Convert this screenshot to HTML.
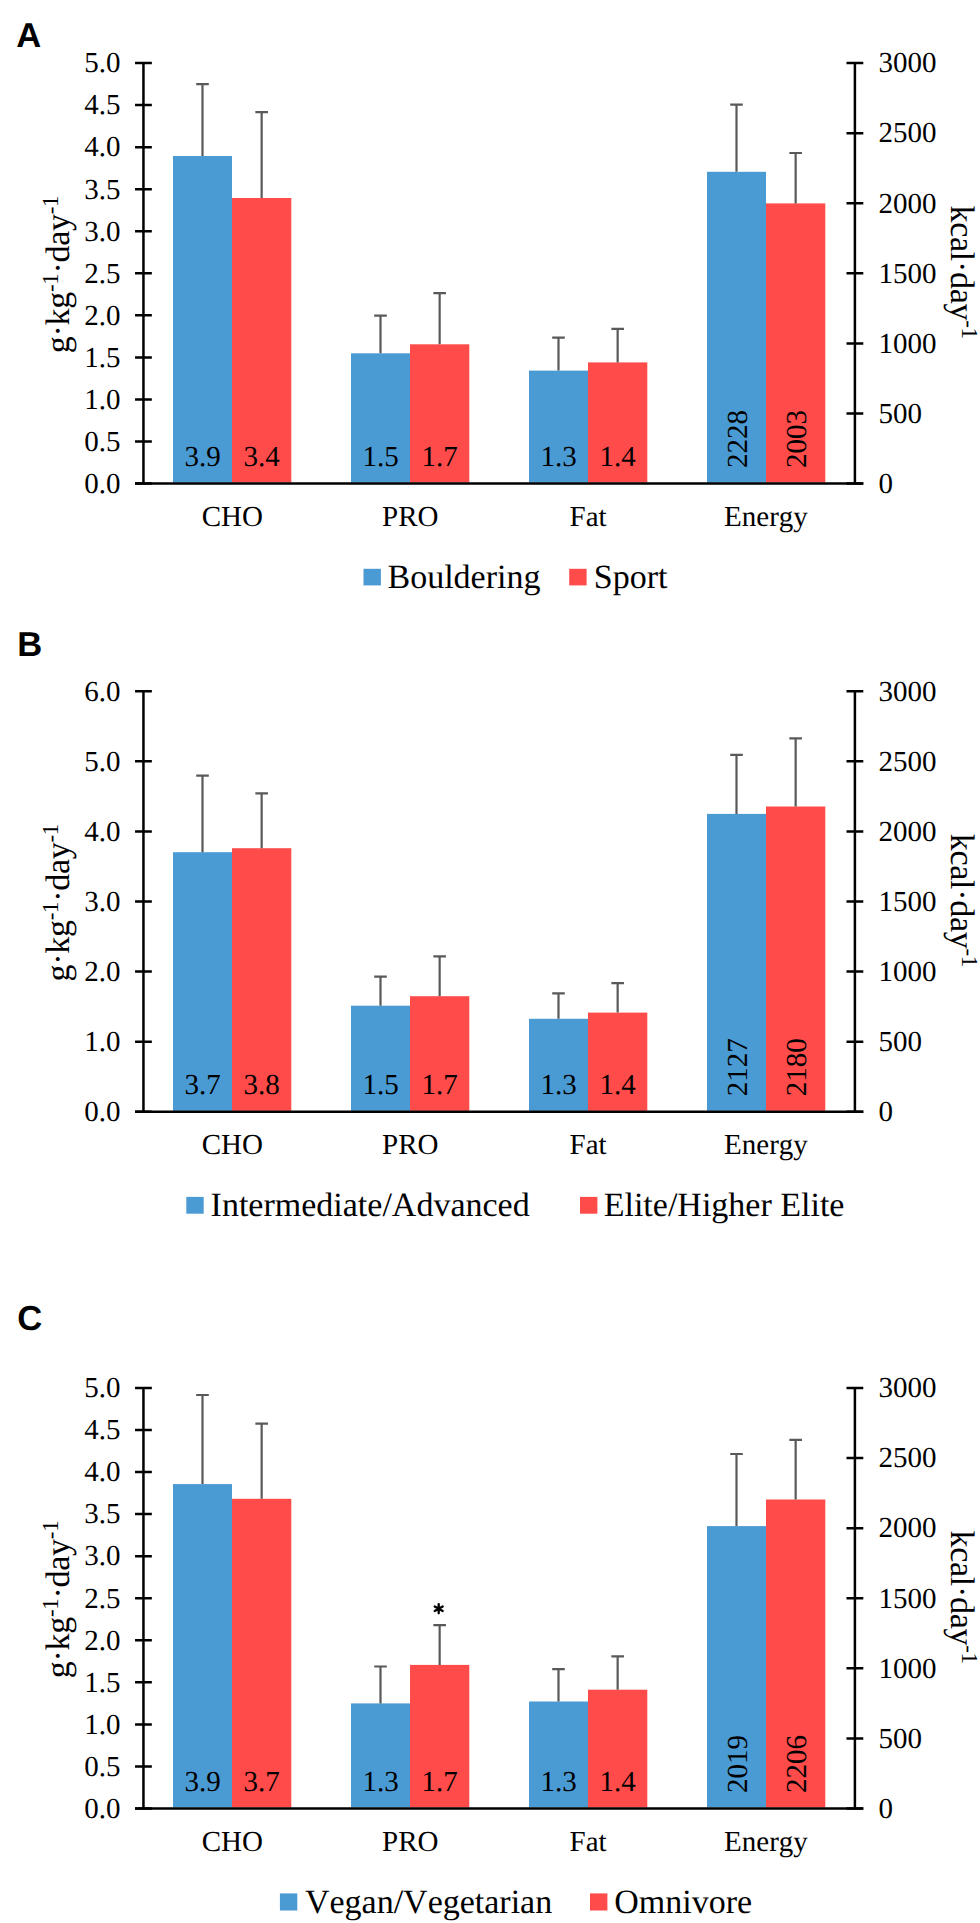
<!DOCTYPE html>
<html><head><meta charset="utf-8"><style>
html,body{margin:0;padding:0;background:#fff;width:980px;height:1923px;overflow:hidden}
svg{display:block}
text{font-kerning:none;text-rendering:geometricPrecision;font-family:"Liberation Serif",serif;font-size:29.0px;fill:#000}
.t{font-size:34.0px;letter-spacing:-0.3px}
.s{font-size:23px}
.l{font-size:34.0px}
.p{font-family:"Liberation Sans",sans-serif;font-weight:bold;font-size:34.6px}
.ast{font-family:"Liberation Sans",sans-serif;font-size:30px}
</style></head><body>
<svg width="980" height="1923" viewBox="0 0 980 1923">
<rect x="173" y="156" width="59" height="326.55" fill="#4a9ad3"/>
<rect x="232" y="198" width="59.3" height="284.55" fill="#ff4c4b"/>
<rect x="351" y="353.3" width="59" height="129.25" fill="#4a9ad3"/>
<rect x="410" y="344.3" width="59.3" height="138.25" fill="#ff4c4b"/>
<rect x="529" y="370.6" width="59" height="111.95" fill="#4a9ad3"/>
<rect x="588" y="362.4" width="59.3" height="120.15" fill="#ff4c4b"/>
<rect x="707" y="171.8" width="59" height="310.75" fill="#4a9ad3"/>
<rect x="766" y="203.4" width="59.3" height="279.15" fill="#ff4c4b"/>
<path d="M202.5 156V84.2M196.2 84.2H208.8" stroke="#595959" stroke-width="2.2" fill="none"/>
<path d="M261.65 198V112.2M255.35 112.2H267.95" stroke="#595959" stroke-width="2.2" fill="none"/>
<path d="M380.5 353.3V315.7M374.2 315.7H386.8" stroke="#595959" stroke-width="2.2" fill="none"/>
<path d="M439.65 344.3V293.1M433.35 293.1H445.95" stroke="#595959" stroke-width="2.2" fill="none"/>
<path d="M558.5 370.6V337.6M552.2 337.6H564.8" stroke="#595959" stroke-width="2.2" fill="none"/>
<path d="M617.65 362.4V328.8M611.35 328.8H623.95" stroke="#595959" stroke-width="2.2" fill="none"/>
<path d="M736.5 171.8V104.6M730.2 104.6H742.8" stroke="#595959" stroke-width="2.2" fill="none"/>
<path d="M795.65 203.4V153M789.35 153H801.95" stroke="#595959" stroke-width="2.2" fill="none"/>
<path d="M143.45 63.05V483.55M854.9 63.05V483.55M135.05 483.55H863.3" stroke="#000" stroke-width="2.5" fill="none"/>
<path d="M135.05 483.55H151.85M135.05 441.5H151.85M135.05 399.45H151.85M135.05 357.4H151.85M135.05 315.35H151.85M135.05 273.3H151.85M135.05 231.25H151.85M135.05 189.2H151.85M135.05 147.15H151.85M135.05 105.1H151.85M135.05 63.05H151.85M846.5 483.55H863.3M846.5 413.47H863.3M846.5 343.38H863.3M846.5 273.3H863.3M846.5 203.22H863.3M846.5 133.13H863.3M846.5 63.05H863.3" stroke="#000" stroke-width="2.5" fill="none"/>
<text x="120.5" y="492.85" text-anchor="end">0.0</text>
<text x="120.5" y="450.8" text-anchor="end">0.5</text>
<text x="120.5" y="408.75" text-anchor="end">1.0</text>
<text x="120.5" y="366.7" text-anchor="end">1.5</text>
<text x="120.5" y="324.65" text-anchor="end">2.0</text>
<text x="120.5" y="282.6" text-anchor="end">2.5</text>
<text x="120.5" y="240.55" text-anchor="end">3.0</text>
<text x="120.5" y="198.5" text-anchor="end">3.5</text>
<text x="120.5" y="156.45" text-anchor="end">4.0</text>
<text x="120.5" y="114.4" text-anchor="end">4.5</text>
<text x="120.5" y="72.35" text-anchor="end">5.0</text>
<text x="878.5" y="492.85">0</text>
<text x="878.5" y="422.77">500</text>
<text x="878.5" y="352.68">1000</text>
<text x="878.5" y="282.6">1500</text>
<text x="878.5" y="212.52">2000</text>
<text x="878.5" y="142.43">2500</text>
<text x="878.5" y="72.35">3000</text>
<text x="232.38" y="525.55" text-anchor="middle">CHO</text>
<text x="410.24" y="525.55" text-anchor="middle">PRO</text>
<text x="588.11" y="525.55" text-anchor="middle">Fat</text>
<text x="765.97" y="525.55" text-anchor="middle">Energy</text>
<text x="202.5" y="465.85" text-anchor="middle">3.9</text>
<text x="261.5" y="465.85" text-anchor="middle">3.4</text>
<text x="380.5" y="465.85" text-anchor="middle">1.5</text>
<text x="439.5" y="465.85" text-anchor="middle">1.7</text>
<text x="558.5" y="465.85" text-anchor="middle">1.3</text>
<text x="617.5" y="465.85" text-anchor="middle">1.4</text>
<text transform="translate(746.7 467.95) rotate(-90)">2228</text>
<text transform="translate(805.7 467.95) rotate(-90)">2003</text>
<text class="t" transform="translate(68.8 274.45) rotate(-90)" text-anchor="middle">g·kg<tspan class="s" dy="-10.6">-1</tspan><tspan dy="10.6">·day</tspan><tspan class="s" dy="-10.6">-1</tspan></text>
<text class="t" transform="translate(951.3 272.15) rotate(90)" text-anchor="middle">kcal·day<tspan class="s" dy="-10.6">-1</tspan></text>
<rect x="363.5" y="568.8" width="17.4" height="16.6" fill="#4a9ad3"/>
<text class="l" x="387.5" y="587.9">Bouldering</text>
<rect x="569.2" y="568.8" width="17.4" height="16.6" fill="#ff4c4b"/>
<text class="l" x="593.8" y="587.9">Sport</text>
<text class="p" x="16.3" y="46.8">A</text>
<rect x="173" y="852.2" width="59" height="258.6" fill="#4a9ad3"/>
<rect x="232" y="848.2" width="59.3" height="262.6" fill="#ff4c4b"/>
<rect x="351" y="1005.7" width="59" height="105.1" fill="#4a9ad3"/>
<rect x="410" y="996.2" width="59.3" height="114.6" fill="#ff4c4b"/>
<rect x="529" y="1018.8" width="59" height="92" fill="#4a9ad3"/>
<rect x="588" y="1012.6" width="59.3" height="98.2" fill="#ff4c4b"/>
<rect x="707" y="813.9" width="59" height="296.9" fill="#4a9ad3"/>
<rect x="766" y="806.5" width="59.3" height="304.3" fill="#ff4c4b"/>
<path d="M202.5 852.2V775.6M196.2 775.6H208.8" stroke="#595959" stroke-width="2.2" fill="none"/>
<path d="M261.65 848.2V793.4M255.35 793.4H267.95" stroke="#595959" stroke-width="2.2" fill="none"/>
<path d="M380.5 1005.7V976.7M374.2 976.7H386.8" stroke="#595959" stroke-width="2.2" fill="none"/>
<path d="M439.65 996.2V956.4M433.35 956.4H445.95" stroke="#595959" stroke-width="2.2" fill="none"/>
<path d="M558.5 1018.8V993.3M552.2 993.3H564.8" stroke="#595959" stroke-width="2.2" fill="none"/>
<path d="M617.65 1012.6V983.2M611.35 983.2H623.95" stroke="#595959" stroke-width="2.2" fill="none"/>
<path d="M736.5 813.9V754.8M730.2 754.8H742.8" stroke="#595959" stroke-width="2.2" fill="none"/>
<path d="M795.65 806.5V738.3M789.35 738.3H801.95" stroke="#595959" stroke-width="2.2" fill="none"/>
<path d="M143.45 691.2V1111.8M854.9 691.2V1111.8M135.05 1111.8H863.3" stroke="#000" stroke-width="2.5" fill="none"/>
<path d="M135.05 1111.8H151.85M135.05 1041.7H151.85M135.05 971.6H151.85M135.05 901.5H151.85M135.05 831.4H151.85M135.05 761.3H151.85M135.05 691.2H151.85M846.5 1111.8H863.3M846.5 1041.7H863.3M846.5 971.6H863.3M846.5 901.5H863.3M846.5 831.4H863.3M846.5 761.3H863.3M846.5 691.2H863.3" stroke="#000" stroke-width="2.5" fill="none"/>
<text x="120.5" y="1121.1" text-anchor="end">0.0</text>
<text x="120.5" y="1051" text-anchor="end">1.0</text>
<text x="120.5" y="980.9" text-anchor="end">2.0</text>
<text x="120.5" y="910.8" text-anchor="end">3.0</text>
<text x="120.5" y="840.7" text-anchor="end">4.0</text>
<text x="120.5" y="770.6" text-anchor="end">5.0</text>
<text x="120.5" y="700.5" text-anchor="end">6.0</text>
<text x="878.5" y="1121.1">0</text>
<text x="878.5" y="1051">500</text>
<text x="878.5" y="980.9">1000</text>
<text x="878.5" y="910.8">1500</text>
<text x="878.5" y="840.7">2000</text>
<text x="878.5" y="770.6">2500</text>
<text x="878.5" y="700.5">3000</text>
<text x="232.38" y="1153.8" text-anchor="middle">CHO</text>
<text x="410.24" y="1153.8" text-anchor="middle">PRO</text>
<text x="588.11" y="1153.8" text-anchor="middle">Fat</text>
<text x="765.97" y="1153.8" text-anchor="middle">Energy</text>
<text x="202.5" y="1094.1" text-anchor="middle">3.7</text>
<text x="261.5" y="1094.1" text-anchor="middle">3.8</text>
<text x="380.5" y="1094.1" text-anchor="middle">1.5</text>
<text x="439.5" y="1094.1" text-anchor="middle">1.7</text>
<text x="558.5" y="1094.1" text-anchor="middle">1.3</text>
<text x="617.5" y="1094.1" text-anchor="middle">1.4</text>
<text transform="translate(746.7 1096.2) rotate(-90)">2127</text>
<text transform="translate(805.7 1096.2) rotate(-90)">2180</text>
<text class="t" transform="translate(68.8 902.7) rotate(-90)" text-anchor="middle">g·kg<tspan class="s" dy="-10.6">-1</tspan><tspan dy="10.6">·day</tspan><tspan class="s" dy="-10.6">-1</tspan></text>
<text class="t" transform="translate(951.3 900.4) rotate(90)" text-anchor="middle">kcal·day<tspan class="s" dy="-10.6">-1</tspan></text>
<rect x="186.3" y="1196.9" width="17.4" height="16.8" fill="#4a9ad3"/>
<text class="l" x="210.6" y="1215.7">Intermediate/Advanced</text>
<rect x="580" y="1196.9" width="17.4" height="16.8" fill="#ff4c4b"/>
<text class="l" x="603.7" y="1215.7">Elite/Higher Elite</text>
<text class="p" x="17.2" y="655.9">B</text>
<rect x="173" y="1484.1" width="59" height="323.4" fill="#4a9ad3"/>
<rect x="232" y="1498.8" width="59.3" height="308.7" fill="#ff4c4b"/>
<rect x="351" y="1703.4" width="59" height="104.1" fill="#4a9ad3"/>
<rect x="410" y="1664.9" width="59.3" height="142.6" fill="#ff4c4b"/>
<rect x="529" y="1701.5" width="59" height="106" fill="#4a9ad3"/>
<rect x="588" y="1689.7" width="59.3" height="117.8" fill="#ff4c4b"/>
<rect x="707" y="1526.1" width="59" height="281.4" fill="#4a9ad3"/>
<rect x="766" y="1499.5" width="59.3" height="308" fill="#ff4c4b"/>
<path d="M202.5 1484.1V1395M196.2 1395H208.8" stroke="#595959" stroke-width="2.2" fill="none"/>
<path d="M261.65 1498.8V1423.7M255.35 1423.7H267.95" stroke="#595959" stroke-width="2.2" fill="none"/>
<path d="M380.5 1703.4V1666.5M374.2 1666.5H386.8" stroke="#595959" stroke-width="2.2" fill="none"/>
<path d="M439.65 1664.9V1625.1M433.35 1625.1H445.95" stroke="#595959" stroke-width="2.2" fill="none"/>
<path d="M558.5 1701.5V1669.1M552.2 1669.1H564.8" stroke="#595959" stroke-width="2.2" fill="none"/>
<path d="M617.65 1689.7V1656.4M611.35 1656.4H623.95" stroke="#595959" stroke-width="2.2" fill="none"/>
<path d="M736.5 1526.1V1454M730.2 1454H742.8" stroke="#595959" stroke-width="2.2" fill="none"/>
<path d="M795.65 1499.5V1439.9M789.35 1439.9H801.95" stroke="#595959" stroke-width="2.2" fill="none"/>
<path d="M143.45 1387.95V1808.5M854.9 1387.95V1808.5M135.05 1808.5H863.3" stroke="#000" stroke-width="2.5" fill="none"/>
<path d="M135.05 1808.5H151.85M135.05 1766.44H151.85M135.05 1724.39H151.85M135.05 1682.34H151.85M135.05 1640.28H151.85M135.05 1598.22H151.85M135.05 1556.17H151.85M135.05 1514.12H151.85M135.05 1472.06H151.85M135.05 1430.01H151.85M135.05 1387.95H151.85M846.5 1808.5H863.3M846.5 1738.41H863.3M846.5 1668.32H863.3M846.5 1598.22H863.3M846.5 1528.13H863.3M846.5 1458.04H863.3M846.5 1387.95H863.3" stroke="#000" stroke-width="2.5" fill="none"/>
<text x="120.5" y="1817.8" text-anchor="end">0.0</text>
<text x="120.5" y="1775.74" text-anchor="end">0.5</text>
<text x="120.5" y="1733.69" text-anchor="end">1.0</text>
<text x="120.5" y="1691.63" text-anchor="end">1.5</text>
<text x="120.5" y="1649.58" text-anchor="end">2.0</text>
<text x="120.5" y="1607.52" text-anchor="end">2.5</text>
<text x="120.5" y="1565.47" text-anchor="end">3.0</text>
<text x="120.5" y="1523.41" text-anchor="end">3.5</text>
<text x="120.5" y="1481.36" text-anchor="end">4.0</text>
<text x="120.5" y="1439.31" text-anchor="end">4.5</text>
<text x="120.5" y="1397.25" text-anchor="end">5.0</text>
<text x="878.5" y="1817.8">0</text>
<text x="878.5" y="1747.71">500</text>
<text x="878.5" y="1677.62">1000</text>
<text x="878.5" y="1607.52">1500</text>
<text x="878.5" y="1537.43">2000</text>
<text x="878.5" y="1467.34">2500</text>
<text x="878.5" y="1397.25">3000</text>
<text x="232.38" y="1850.5" text-anchor="middle">CHO</text>
<text x="410.24" y="1850.5" text-anchor="middle">PRO</text>
<text x="588.11" y="1850.5" text-anchor="middle">Fat</text>
<text x="765.97" y="1850.5" text-anchor="middle">Energy</text>
<text x="202.5" y="1790.8" text-anchor="middle">3.9</text>
<text x="261.5" y="1790.8" text-anchor="middle">3.7</text>
<text x="380.5" y="1790.8" text-anchor="middle">1.3</text>
<text x="439.5" y="1790.8" text-anchor="middle">1.7</text>
<text x="558.5" y="1790.8" text-anchor="middle">1.3</text>
<text x="617.5" y="1790.8" text-anchor="middle">1.4</text>
<text transform="translate(746.7 1792.9) rotate(-90)">2019</text>
<text transform="translate(805.7 1792.9) rotate(-90)">2206</text>
<text class="t" transform="translate(68.8 1599.4) rotate(-90)" text-anchor="middle">g·kg<tspan class="s" dy="-10.6">-1</tspan><tspan dy="10.6">·day</tspan><tspan class="s" dy="-10.6">-1</tspan></text>
<text class="t" transform="translate(951.3 1597.1) rotate(90)" text-anchor="middle">kcal·day<tspan class="s" dy="-10.6">-1</tspan></text>
<rect x="279.9" y="1893.4" width="17.4" height="17.1" fill="#4a9ad3"/>
<text class="l" x="304.9" y="1913">Vegan/Vegetarian</text>
<rect x="590" y="1893.4" width="17.4" height="17.1" fill="#ff4c4b"/>
<text class="l" x="614.3" y="1913">Omnivore</text>
<text class="p" x="17.2" y="1330.2">C</text>
<path d="M438.7 1604.1000000000001V1613.3M434.72 1606.40L442.68 1611.00M434.72 1611.00L442.68 1606.40" stroke="#000" stroke-width="2.3" stroke-linecap="round" fill="none"/>
</svg>
</body></html>
